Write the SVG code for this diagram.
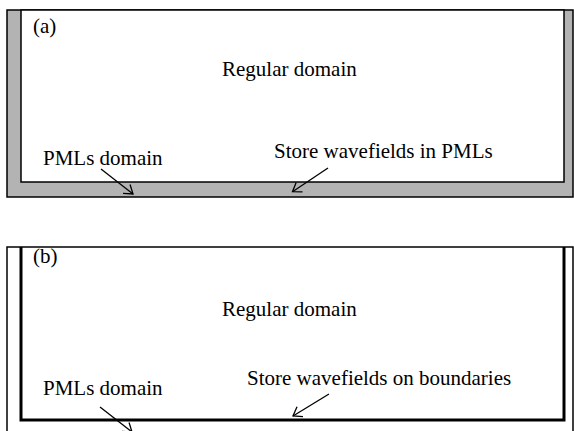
<svg xmlns="http://www.w3.org/2000/svg" width="574" height="431" viewBox="0 0 574 431">
<style>
text{font-family:'Liberation Serif','Times New Roman','DejaVu Serif',serif;font-size:21px;fill:#000}
.thin{fill:none;stroke:#000;stroke-width:1.5}
.thick{fill:none;stroke:#000;stroke-width:3}
.arr{fill:none;stroke:#000;stroke-width:1.3;marker-end:url(#ah)}
</style>
<defs>
<marker id="ah" markerUnits="userSpaceOnUse" markerWidth="24" markerHeight="24" refX="12" refY="12" orient="auto" overflow="visible">
<path d="M3.8,6.3 L12,12 L3.8,17.7" fill="none" stroke="#000" stroke-width="1.3"/>
</marker>
</defs>
<g id="panel-a" font-family="Liberation Serif, serif">
<rect x="7" y="10" width="566" height="187" fill="#b3b3b3" stroke="#000" stroke-width="1.5"/>
<rect x="21" y="10" width="543" height="172" fill="#fff" stroke="#000" stroke-width="1.5"/>
<text x="33" y="33">(a)</text>
<text x="222" y="76">Regular domain</text>
<text x="43" y="165">PMLs domain</text>
<text x="274" y="158">Store wavefields in PMLs</text>
</g>
<g id="panel-b" font-family="Liberation Serif, serif">
<path class="thin" d="M7,431 L7,247 L573,247 L573,431"/>
<path class="thick" d="M21,247 L21,420 L564,420 L564,247"/>
<text x="33" y="263">(b)</text>
<text x="222" y="316">Regular domain</text>
<text x="43" y="395">PMLs domain</text>
<text x="247" y="385">Store wavefields on boundaries</text>
</g>
<g id="connectors">
<line class="arr" x1="101" y1="169" x2="133" y2="194"/>
<line class="arr" x1="328" y1="168" x2="292.5" y2="191.7"/>
<line class="arr" x1="100" y1="407" x2="132" y2="432"/>
<line class="arr" x1="329" y1="394" x2="293" y2="416"/>
</g>
</svg>
